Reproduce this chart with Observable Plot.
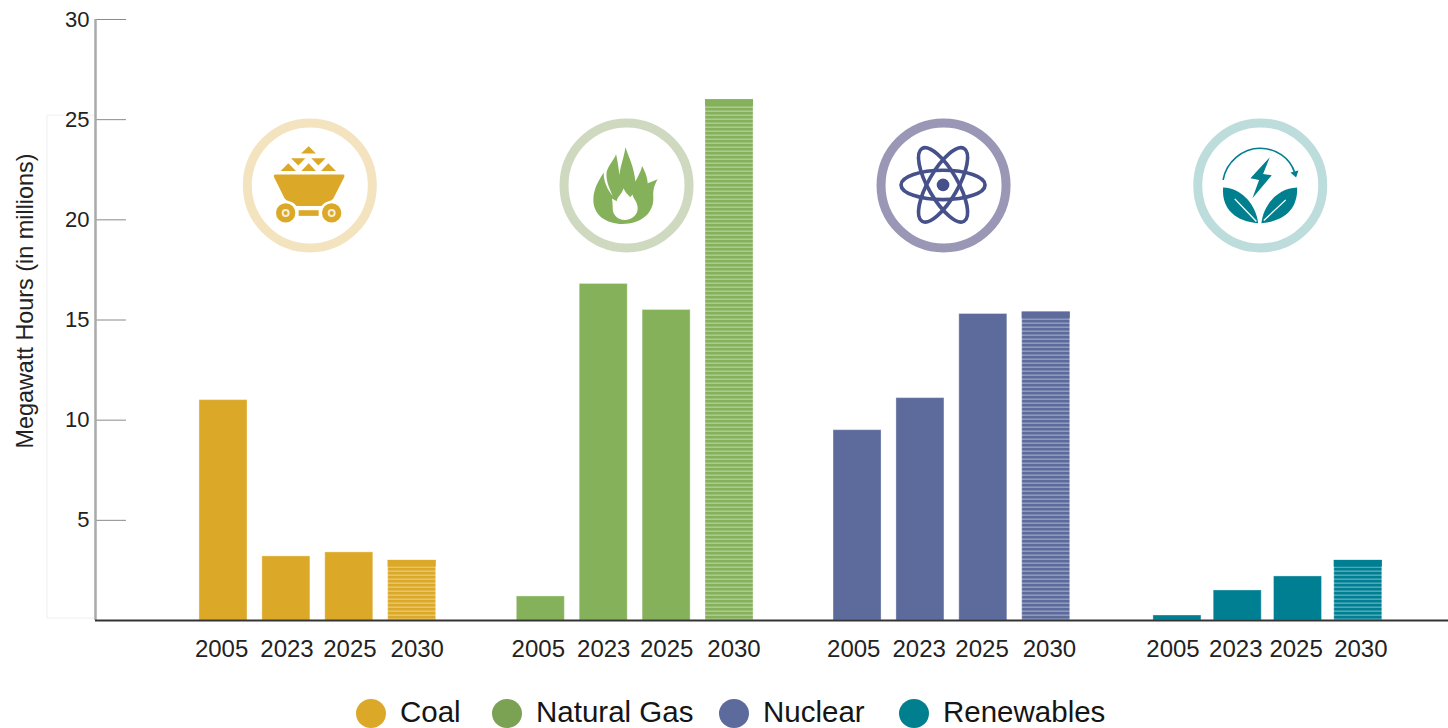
<!DOCTYPE html>
<html>
<head>
<meta charset="utf-8">
<script src="https://cdn.jsdelivr.net/npm/d3@7"></script>
<script src="https://cdn.jsdelivr.net/npm/@observablehq/plot@0.6"></script>
<style>
  html, body { margin: 0; padding: 0; background: #fff; overflow: hidden; }
  #page { position: relative; width: 1448px; height: 728px; overflow: hidden; font-family: "Liberation Sans", Arial, sans-serif; }
  #chart svg { display: block; }
  #legend { position: absolute; left: 0; top: 696px; width: 1448px; height: 32px; }
  .item { position: absolute; top: 2.5px; display: flex; align-items: center; height: 25px; line-height: 25px; white-space: nowrap; font-size: 29.5px; color: #151515; }
  .swatch { position: relative; top: 3.5px; display: inline-block; flex: none; width: 30px; height: 29px; border-radius: 50%; margin: -3px 14px -1px 0; }
</style>
</head>
<body>
<div id="page">
  <div id="chart"></div>
  <div id="legend"></div>
</div>
<script>
const categories = ["Coal", "Natural Gas", "Nuclear", "Renewables"];
const years = ["2005", "2023", "2025", "2030"];
const coalValues = [11, 3.2, 3.4, 3.0];
const gasValues = [1.2, 16.8, 15.5, 26];
const nuclearValues = [9.5, 11.1, 15.3, 15.4];
const renewablesValues = [0.25, 1.5, 2.2, 3.0];
const yTicks = [5, 10, 15, 20, 25, 30];

const seriesValues = [coalValues, gasValues, nuclearValues, renewablesValues];
const barColors = ["#dba927", "#85b15a", "#5d6a9c", "#007f92"];
const legendColors = ["#dba927", "#7ba153", "#5d6a9c", "#00808f"];
const ringColors = ["#f4e3bf", "#cfd9bf", "#9996b6", "#bddcdc"];

// Layout on a linear x scale whose unit is one bar slot.
const groupStart = [0, 4.99, 9.97, 15];
const groupStep = [0.989, 0.989, 0.989, 0.948];
const labelNudge = [-0.03, 0.01, 0.01, 0.08];
const groupLabelNudge = [0, -0.01, -0.03, -0.04];
const iconSlot = [1.735, 1.725, 1.73, 1.68];
const barWidth = 0.755;
const axisLeft = 95;

const rows = categories.flatMap((category, g) =>
  years.map((year, i) => {
    const x1 = groupStart[g] + i * groupStep[g];
    return {
      category, year, value: seriesValues[g][i], color: barColors[g], hatched: i === 3,
      x1, x2: x1 + barWidth,
      tick: x1 + barWidth / 2 + labelNudge[i] + groupLabelNudge[g],
      fill: i === 3 ? `url(#hatch-${g})` : barColors[g]
    };
  })
);
const tickLabel = new Map(rows.map(d => [d.tick, d.year]));
const rings = categories.map((category, g) => ({ category, x: groupStart[g] + iconSlot[g], y: 21.72, stroke: ringColors[g] }));

const NS = "http://www.w3.org/2000/svg";
function el(name, attrs, parent) {
  const n = document.createElementNS(NS, name);
  for (const k in attrs) n.setAttribute(k, attrs[k]);
  if (parent) parent.appendChild(n);
  return n;
}

function defsMark() {
  const defs = el("defs", {});
  barColors.forEach((c, g) => {
    const p = el("pattern", { id: `hatch-${g}`, patternUnits: "userSpaceOnUse", width: 8, height: 4 }, defs);
    el("rect", { width: 8, height: 4, fill: c }, p);
    el("rect", { y: 2.6, width: 8, height: 1.1, fill: "#fff", "fill-opacity": 0.45 }, p);
  });
  return defs;
}

// Icon glyphs drawn in a 3x local space, centred on the ring position.
const glyphs = [
  (g) => {
    const f = { fill: "#dba927" };
    ["M268 139L245 161H290Z", "M215 175H258L237 197Z", "M276 175H319L297 197Z",
     "M207 190L184 213H230Z", "M268 190L246 213H290Z", "M327 190L305 213H350Z",
     "M168 224H372Q377 224 375 231L342 296Q338 303 328 304Q316 306 306 318H232Q222 306 210 304Q200 303 196 296L164 231Q162 224 168 224Z",
     "M238 331H298V348H238Z"].forEach(d => el("path", { d, ...f }, g));
    [199, 337].forEach(cx => {
      el("circle", { cx, cy: 339, r: 29, ...f }, g);
      el("circle", { cx, cy: 339, r: 12, fill: "#f8eed6" }, g);
      el("circle", { cx, cy: 339, r: 6, ...f }, g);
    });
    return [270, 255];
  },
  (g) => {
    el("path", { fill: "#85b15a", d: "M1210 372C1160 372 1122 345 1122 300C1122 265 1140 240 1153 218C1152 245 1165 270 1180 288C1170 265 1158 240 1162 215C1170 190 1185 180 1190 162C1195 185 1198 205 1200 225C1205 190 1215 170 1218 142C1230 175 1245 205 1248 245C1255 230 1265 215 1268 198C1278 215 1285 235 1285 250L1315 238C1305 255 1300 270 1302 295C1302 345 1260 372 1210 372Z" }, g);
    el("path", { fill: "#fff", d: "M1216 360C1195 360 1180 345 1180 325C1180 312 1179 305 1178 296L1192 304C1194 290 1206 285 1213 265C1218 280 1226 282 1232 292L1240 284C1240 295 1255 305 1255 325C1255 345 1238 360 1216 360Z" }, g);
    return [1220, 255];
  },
  (g) => {
    [0, 60, -60].forEach(a => el("ellipse", { cx: 250, cy: 255, rx: 126, ry: 44, fill: "none", stroke: "#46508a", "stroke-width": 11, transform: `rotate(${a} 250 255)` }, g));
    el("circle", { cx: 250, cy: 255, r: 19, fill: "#46508a" }, g);
    return [250, 255];
  },
  (g) => {
    const c = "#007f8f";
    el("path", { d: "M1090 240C1100 185 1150 145 1200 145C1250 145 1290 175 1304 216", fill: "none", stroke: c, "stroke-width": 5 }, g);
    el("path", { d: "M1292 218L1316 212L1309 233Z", fill: c }, g);
    el("path", { d: "M1230 172L1172 235L1198 240L1178 295L1236 226L1210 222Z", fill: c }, g);
    el("path", { d: "M1090 263C1150 265 1190 320 1195 370C1130 365 1085 330 1090 263Z", fill: c }, g);
    el("path", { d: "M1312 263C1250 265 1210 320 1205 370C1270 365 1315 330 1312 263Z", fill: c }, g);
    el("path", { d: "M1125 297L1190 365M1278 300L1212 362", stroke: "#fff", "stroke-width": 4, fill: "none" }, g);
    return [1200, 255];
  }
];

function iconsMark(index, scales) {
  const root = el("g", {});
  rings.forEach((r, i) => {
    const g = el("g", {}, root);
    const [cx, cy] = glyphs[i](g);
    g.setAttribute("transform", `translate(${scales.x(r.x)},${scales.y(r.y)}) scale(${1 / 3}) translate(${-cx},${-cy})`);
  });
  return root;
}

const plot = Plot.plot({
  width: 1448,
  height: 696,
  marginTop: 19,
  marginRight: 0,
  marginBottom: 76,
  marginLeft: axisLeft,
  style: { fontFamily: '"Liberation Sans", Arial, sans-serif', background: "#fff", overflow: "visible" },
  x: { domain: [-1.635, 19.64], axis: null },
  y: { domain: [0, 30], axis: null },
  marks: [
    defsMark,
    // faint frame left over in the source image
    Plot.rect([{}], { x1: -2.39, x2: -1.63, y1: 0.1, y2: 25.2, stroke: "#eeeeee", strokeWidth: 1, fill: "none" }),
    Plot.ruleY(yTicks, { x1: -1.635, x2: -1.148, stroke: "#8a8a8a", strokeWidth: 1 }),
    Plot.ruleX([-1.635], { y1: 0, y2: 30, stroke: "#aaaaaa", strokeWidth: 2.5 }),
    Plot.rectY(rows, { x1: "x1", x2: "x2", y1: 0, y2: "value", fill: "fill", stroke: "#fff", strokeOpacity: 0.35, strokeWidth: 1 }),
    Plot.rectY(rows.filter(d => d.hatched), { x1: "x1", x2: "x2", y1: d => d.value - 0.33, y2: "value", fill: "color" }),
    Plot.ruleY([0], { x1: -1.635, x2: 19.64, stroke: "#333333", strokeWidth: 2 }),
    Plot.dot(rings, { x: "x", y: "y", r: 62.5, stroke: "stroke", strokeWidth: 9, fill: "#fff" }),
    iconsMark,
    Plot.axisY({ ticks: yTicks, tickSize: 0, tickPadding: 6, fontSize: 22, label: null, color: "#222", tickFormat: d => String(d) }),
    Plot.axisX({ ticks: rows.map(d => d.tick), tickSize: 0, tickPadding: 19, fontSize: 24, label: null, color: "#222", tickFormat: d => tickLabel.get(d) }),
    Plot.text(["Megawatt Hours (in millions)"], { frameAnchor: "left", textAnchor: "middle", dx: -70, dy: -19, rotate: -90, fontSize: 23.4, fill: "#222" })
  ]
});
document.getElementById("chart").appendChild(plot);

const legendLeft = [356, 492, 719, 899];
const legend = document.getElementById("legend");
categories.forEach((c, i) => {
  const item = document.createElement("span");
  item.className = "item";
  item.style.left = legendLeft[i] + "px";
  const sw = document.createElement("span");
  sw.className = "swatch";
  sw.style.background = legendColors[i];
  item.appendChild(sw);
  item.appendChild(document.createTextNode(c));
  legend.appendChild(item);
});
</script>
</body>
</html>
